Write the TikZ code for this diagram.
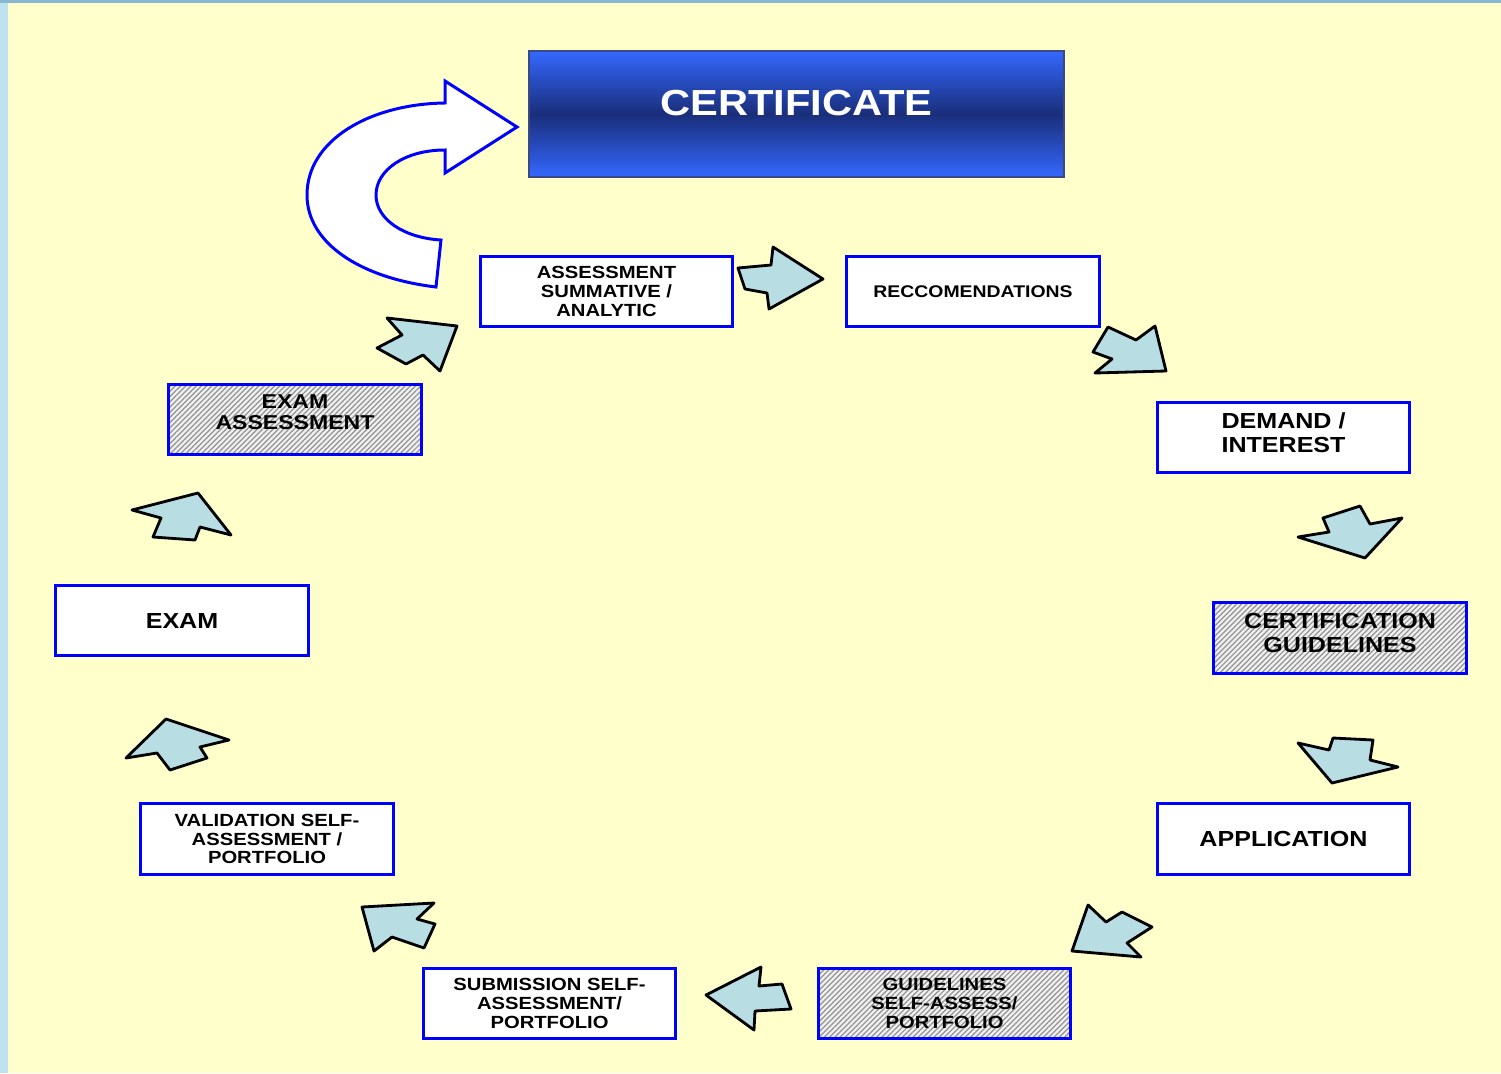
\documentclass[tikz,border=0pt]{standalone}
\usepackage{fontspec}
\setmainfont{Liberation Sans}[FakeStretch=1.15]
\usetikzlibrary{patterns.meta}

\definecolor{bgyellow}{RGB}{255,255,204}
\definecolor{stripleft}{RGB}{190,226,242}
\definecolor{striptop}{RGB}{135,182,208}
\definecolor{boxblue}{RGB}{0,0,255}
\definecolor{certlight}{RGB}{52,104,255}
\definecolor{certdark}{RGB}{26,46,122}
\definecolor{certline}{RGB}{60,72,130}
\definecolor{arrowfill}{RGB}{184,222,228}

\begin{document}
\begin{tikzpicture}[x=0.01cm,y=-0.01cm,
    box/.style={draw=boxblue,line width=0.85pt,fill=white,minimum width=2.52cm,minimum height=0.70cm,align=center,inner sep=0pt,font=\bfseries},
    hatched/.style={box,preaction={fill=white!88!gray},pattern={Lines[angle=45,distance=1.05pt,line width=0.35pt]},pattern color=gray!85},
    small/.style={font=\bfseries\fontsize{5}{5.3}\selectfont},
    big/.style={font=\bfseries\fontsize{6.2}{6.8}\selectfont},
    txt/.style={align=center,inner sep=0pt},
    blockarrow/.style={draw=black,line width=0.8pt,fill=arrowfill,line join=round}]
			\useasboundingbox (0,0) rectangle (1501,1073);
			%background
			\fill[bgyellow] (0,0) rectangle (1501,1073);
			\fill[stripleft] (0,0) rectangle (8,1073);
			\fill[striptop] (0,0) rectangle (1501,3);

			%certificate
			\node [draw=certline,line width=0.6pt,top color=certlight,bottom color=certlight,middle color=certdark,minimum width=5.35cm,minimum height=1.26cm] (cert) at (796.5,114) {};
			\node [txt,font=\bfseries\fontsize{10.3}{11}\selectfont,text=white] (certtxt) at (796.5,103) {CERTIFICATE};

			%boxes of the cycle
			\node [box,small] (assess) at (606.5,291.5) {ASSESSMENT\\SUMMATIVE /\\ANALYTIC};
			\node [box,font=\bfseries\fontsize{4.8}{5.3}\selectfont] (recc) at (973,291.5) {RECCOMENDATIONS};
			\node [box] (demand) at (1283.5,437.5) {};
			\node [txt,big] (demandtxt) at (1283.5,432.5) {DEMAND /\\INTEREST};
			\node [hatched] (guide) at (1340,638) {};
			\node [txt,big] (guidetxt) at (1340,633) {CERTIFICATION\\GUIDELINES};
			\node [box,big] (appl) at (1283.5,839) {APPLICATION};
			\node [hatched,small] (selfguide) at (944.5,1003.5) {GUIDELINES\\SELF-ASSESS/\\PORTFOLIO};
			\node [box,small] (submit) at (549.5,1003.5) {SUBMISSION SELF-\\ASSESSMENT/\\PORTFOLIO};
			\node [box,small] (valid) at (267,839) {VALIDATION SELF-\\ASSESSMENT /\\PORTFOLIO};
			\node [box,big] (exam) at (182,620.5) {EXAM};
			\node [hatched] (examass) at (295,419.5) {};
			\node [txt,font=\bfseries\fontsize{5.7}{6.1}\selectfont] (examasstxt) at (295,412) {EXAM\\ASSESSMENT};

			%turn arrow to the certificate
			\draw[draw=boxblue,line width=0.85pt,fill=white,line join=miter]
				(436,287) .. controls (360,278) and (307,243) .. (307,195)
				.. controls (307,140) and (370,104) .. (445,103)
				-- (445,81) -- (517,127) -- (445,173) -- (445,150)
				.. controls (405,150) and (376,170) .. (376,195)
				.. controls (376,220) and (405,238) .. (441,240) -- cycle;

			%block arrows
			\draw[blockarrow] (738,268) -- (771,265) -- (773,247) -- (823,279) -- (769,309) -- (767,293) -- (745,289) -- cycle;
			\draw[blockarrow] (1108,327) -- (1136,340) -- (1155,326) -- (1166,371) -- (1095,373) -- (1112,359) -- (1093,352) -- cycle;
			\draw[blockarrow] (1298,537) -- (1329,532) -- (1323,518) -- (1360,506) -- (1370,524) -- (1402,518) -- (1365,558) -- cycle;
			\draw[blockarrow] (1298,743) -- (1329,750) -- (1333,738) -- (1373,740) -- (1370,760) -- (1398,767) -- (1332,783) -- cycle;
			\draw[blockarrow] (1088,905) -- (1106,922) -- (1122,912) -- (1152,927) -- (1127,943) -- (1141,957) -- (1072,951) -- cycle;
			\draw[blockarrow] (761,967) -- (759,986) -- (782,984) -- (791,1009) -- (755,1011) -- (754,1030) -- (706,995) -- cycle;
			\draw[blockarrow] (362,907) -- (434,903) -- (417,919) -- (435,924) -- (424,948) -- (392,937) -- (374,951) -- cycle;
			\draw[blockarrow] (166,719) -- (229,740) -- (200,747) -- (207,758) -- (170,770) -- (157,753) -- (126,758) -- cycle;
			\draw[blockarrow] (132,510) -- (198,493) -- (231,535) -- (200,527) -- (195,540) -- (153,537) -- (161,518) -- cycle;
			\draw[blockarrow] (387,318) -- (457,326) -- (440,371) -- (423,355) -- (406,364) -- (377,348) -- (402,335) -- cycle;
		\end{tikzpicture}
\end{document}
